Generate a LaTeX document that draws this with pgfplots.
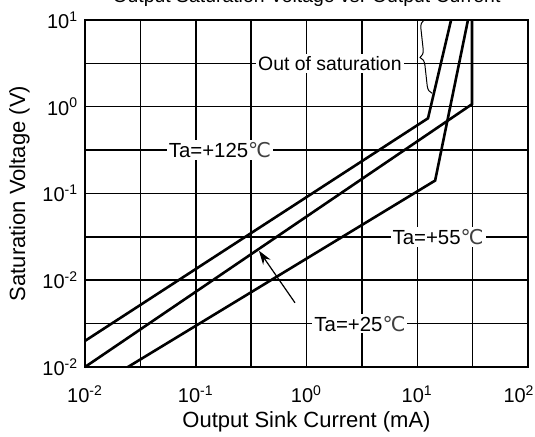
\documentclass[border=0pt]{standalone}
\usepackage{fontspec}
\setmainfont{Liberation Sans}
\newfontfamily\symfont{DejaVu Sans}
\usepackage{pgfplots}
\pgfplotsset{compat=1.18}
\usetikzlibrary{decorations.pathreplacing,arrows.meta}
\newcommand{\degC}{{\symfont\color{black!75}℃}}
\newcommand{\tp}[1]{10\textsuperscript{#1}}

\begin{document}
\fontsize{9.7}{11.5}\selectfont
\begin{tikzpicture}
\begin{loglogaxis}[
    scale only axis,
    width=221.5pt, height=173.5pt,
    xmin=1e-2, xmax=1e2, ymin=1e-3, ymax=10,
    xtick={1e-2,1e-1,1,10,100},
    xticklabels={\tp{-2},\tp{-1},\tp{0},\tp{1},\tp{2}\hspace*{9pt}},
    minor xtick={0.0316,0.316,3.16,31.6},
    ytick={1e-3,1e-2,1e-1,1,10},
    yticklabels={\tp{-2},\tp{-2},\tp{-1},\tp{0},\tp{1}},
    minor ytick={0.00316,0.0316,0.316,3.16},
    grid=both,
    major grid style={black, line width=0.75pt},
    minor grid style={black, line width=0.75pt},
    axis line style={line width=0.75pt},
    major tick length=0pt, minor tick length=0pt,
    tick label style={font=\fontsize{10}{12}\selectfont},
    xticklabel style={yshift=-5.8pt},
    xlabel={Output Sink Current (mA)},
    ylabel={Saturation Voltage (V)},
    label style={font=\fontsize{11}{13}\selectfont},
    xlabel style={at={(axis description cs:0.5,-0.1758)}, anchor=base},
    ylabel style={at={(axis description cs:-0.1354,0.5)}, anchor=base},
    clip=false,
]
% Ta=+125
\addplot[black, line width=1.3pt] coordinates {(0.01,0.0020) (12.5,0.736) (20.2,10)};
% Ta=+25 (arrow)
\addplot[black, line width=1.3pt] coordinates {(0.01,0.001) (31.2,1.07) (31.2,10)};
% Ta=+55
\addplot[black, line width=1.3pt] coordinates {(0.0244,0.001) (14.5,0.141) (28.7,10)};

\node[fill=white, inner sep=1pt, anchor=east] at (axis cs:7.59,3.16) {Out of saturation};
\draw[decorate, decoration={brace, amplitude=4pt}, line width=0.5pt]
    (axis cs:13.6,1.43) -- (axis cs:11.5,10);
\node[fill=white, inner sep=1pt, font=\fontsize{10.2}{12}\selectfont] at (axis cs:0.1655,0.316) {Ta=+125\degC};
\node[fill=white, inner sep=1pt, font=\fontsize{10.2}{12}\selectfont] at (axis cs:15.4,0.0316) {Ta=+55\degC};
\node[fill=white, inner sep=1pt, font=\fontsize{10.2}{12}\selectfont] at (axis cs:3.04,0.00316) {Ta=+25\degC};
\draw[-{Stealth[length=7pt,width=4.5pt]}, line width=0.6pt]
    (axis cs:0.787,0.0055) -- (axis cs:0.372,0.0219);
\node[anchor=base, yshift=8.5pt] at (axis description cs:0.5,1)
    {Output Saturation Voltage vs. Output Current};
\end{loglogaxis}
\pgfresetboundingbox
\useasboundingbox (-42.5pt,-35pt) rectangle (225pt,183.5pt);
\end{tikzpicture}
\end{document}
